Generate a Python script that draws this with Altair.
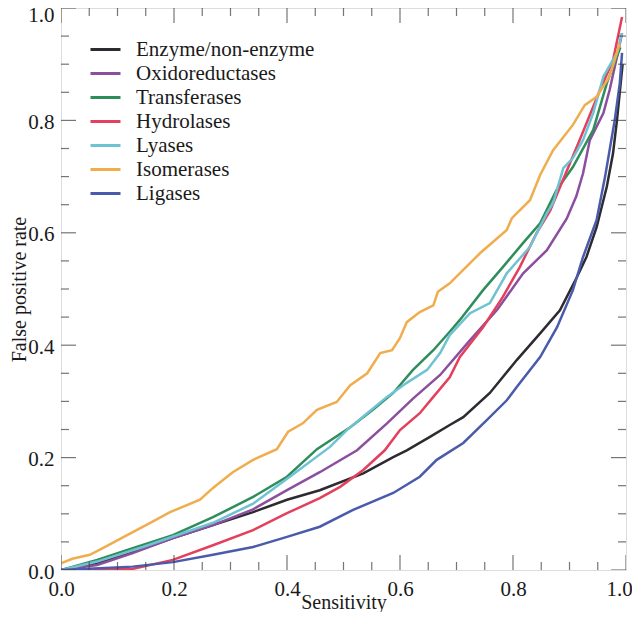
import altair as alt
import pandas as pd

names = ["Enzyme/non-enzyme", "Oxidoreductases", "Transferases", "Hydrolases",
         "Lyases", "Isomerases", "Ligases"]
colors = ["#2b2b30", "#8c4f9e", "#2f8d5c", "#e2405c", "#6fc2d2", "#f0ad4e", "#4a5bab"]

enzyme_x = [0, 0.051, 0.127, 0.198, 0.269, 0.34, 0.40, 0.458, 0.535, 0.588, 0.612, 0.653, 0.688,
            0.712, 0.759, 0.807, 0.848, 0.883, 0.913, 0.93, 0.948, 0.966, 0.977, 0.984, 0.99, 0.994]
enzyme_y = [0, 0.009, 0.032, 0.057, 0.080, 0.103, 0.125, 0.142, 0.172, 0.201, 0.213, 0.237, 0.258,
            0.272, 0.315, 0.374, 0.421, 0.462, 0.521, 0.557, 0.61, 0.682, 0.741, 0.80, 0.86, 0.90]

oxido_x = [0, 0.064, 0.127, 0.198, 0.269, 0.34, 0.40, 0.458, 0.524, 0.577, 0.623, 0.671, 0.724,
           0.772, 0.818, 0.86, 0.895, 0.912, 0.924, 0.936, 0.96, 0.971, 0.984, 0.993]
oxido_y = [0, 0.009, 0.030, 0.057, 0.080, 0.108, 0.142, 0.174, 0.213, 0.261, 0.305, 0.347, 0.409,
           0.463, 0.528, 0.569, 0.625, 0.665, 0.706, 0.765, 0.813, 0.854, 0.913, 0.955]

trans_x = [0, 0.064, 0.127, 0.198, 0.269, 0.34, 0.40, 0.453, 0.512, 0.552, 0.588, 0.623, 0.659,
           0.688, 0.706, 0.747, 0.782, 0.818, 0.848, 0.877, 0.906, 0.942, 0.966, 0.99]
trans_y = [0, 0.018, 0.039, 0.062, 0.094, 0.130, 0.166, 0.215, 0.254, 0.285, 0.315, 0.356, 0.391,
           0.424, 0.445, 0.498, 0.539, 0.582, 0.617, 0.676, 0.717, 0.783, 0.866, 0.93]

hydro_x = [0, 0.127, 0.198, 0.269, 0.34, 0.40, 0.458, 0.494, 0.535, 0.573, 0.60, 0.635, 0.659,
           0.688, 0.706, 0.747, 0.782, 0.812, 0.842, 0.866, 0.918, 0.954, 0.977, 0.993]
hydro_y = [0, 0.002, 0.018, 0.044, 0.071, 0.101, 0.128, 0.148, 0.178, 0.213, 0.249, 0.279, 0.308,
           0.343, 0.379, 0.432, 0.486, 0.539, 0.60, 0.64, 0.765, 0.854, 0.907, 0.984]

lyase_x = [0, 0.064, 0.145, 0.223, 0.269, 0.34, 0.405, 0.476, 0.506, 0.542, 0.577, 0.612, 0.648,
           0.671, 0.688, 0.724, 0.759, 0.789, 0.83, 0.86, 0.871, 0.889, 0.906, 0.924, 0.942, 0.96,
           0.984, 0.993]
lyase_y = [0, 0.015, 0.041, 0.068, 0.084, 0.118, 0.166, 0.219, 0.249, 0.279, 0.308, 0.333, 0.356,
           0.386, 0.418, 0.457, 0.475, 0.528, 0.575, 0.635, 0.653, 0.715, 0.733, 0.765, 0.813, 0.878,
           0.92, 0.955]

isom_x = [0, 0.02, 0.051, 0.074, 0.117, 0.158, 0.193, 0.246, 0.269, 0.304, 0.34, 0.382, 0.402,
          0.428, 0.453, 0.488, 0.512, 0.542, 0.565, 0.586, 0.60, 0.612, 0.635, 0.659, 0.667, 0.688,
          0.742, 0.789, 0.798, 0.83, 0.848, 0.871, 0.906, 0.927, 0.948, 0.971, 0.989]
isom_y = [0.012, 0.02, 0.027, 0.039, 0.062, 0.084, 0.103, 0.125, 0.146, 0.174, 0.196, 0.215, 0.246,
          0.261, 0.285, 0.299, 0.329, 0.35, 0.386, 0.391, 0.413, 0.441, 0.459, 0.471, 0.495, 0.51,
          0.564, 0.605, 0.626, 0.658, 0.703, 0.747, 0.792, 0.827, 0.842, 0.878, 0.937]

ligase_x = [0, 0.127, 0.198, 0.269, 0.34, 0.40, 0.458, 0.517, 0.588, 0.635, 0.665, 0.712, 0.754,
            0.789, 0.807, 0.848, 0.878, 0.906, 0.924, 0.948, 0.963, 0.972, 0.98, 0.989, 0.993]
ligase_y = [0, 0.006, 0.014, 0.027, 0.041, 0.059, 0.077, 0.107, 0.137, 0.166, 0.196, 0.226, 0.267,
            0.302, 0.326, 0.379, 0.432, 0.498, 0.557, 0.623, 0.70, 0.753, 0.80, 0.866, 0.92]

major_ticks = [0.0, 0.2, 0.4, 0.6, 0.8, 1.0]
minor_ticks = [0.05, 0.1, 0.15, 0.25, 0.3, 0.35, 0.45, 0.5, 0.55, 0.65, 0.7, 0.75, 0.85, 0.9, 0.95]
edges = [0.0, 1.0]

series = [(enzyme_x, enzyme_y), (oxido_x, oxido_y), (trans_x, trans_y), (hydro_x, hydro_y),
          (lyase_x, lyase_y), (isom_x, isom_y), (ligase_x, ligase_y)]
rows = []
for name, (xs, ys) in zip(names, series):
    for i, (a, b) in enumerate(zip(xs, ys)):
        rows.append({"series": name, "x": a, "y": b, "i": i})
df = pd.DataFrame(rows)

def tick_frame(values, along):
    r = []
    for v in values:
        for e in edges:
            if along == "x":
                r.append({"x": v, "y": e})
            else:
                r.append({"x": e, "y": v})
    return pd.DataFrame(r)

SERIF = "Liberation Serif"
INK = "#1a1a1a"
FRAME = "#3a3a3a"

xscale = alt.Scale(domain=[0, 1], nice=False, zero=False)
yscale = alt.Scale(domain=[0, 1], nice=False, zero=False)

xaxis = alt.Axis(values=major_ticks, format=".1f", ticks=False, domain=False, grid=False,
                 labelFont=SERIF, labelFontSize=21, labelColor=INK, labelPadding=8,
                 labelFlush=False,
                 labelOffset={"condition": {"test": "datum.value == 1", "value": -7}, "value": 0},
                 title="Sensitivity", titleFont=SERIF, titleFontSize=20, titleFontWeight="normal",
                 titleColor=INK, titlePadding=-7)
yaxis = alt.Axis(values=major_ticks, format=".1f", ticks=False, domain=False, grid=False,
                 labelFont=SERIF, labelFontSize=21, labelColor=INK, labelPadding=7,
                 labelOffset={"condition": {"test": "datum.value == 1", "value": 7}, "value": 2},
                 title="False positive rate", titleFont=SERIF, titleFontSize=20,
                 titleFontWeight="normal", titleColor=INK, titlePadding=-2)

X = alt.X("x:Q", scale=xscale, axis=xaxis)
Y = alt.Y("y:Q", scale=yscale, axis=yaxis)

lines = alt.Chart(df).mark_line(strokeWidth=2.5, clip=True).encode(
    x=X, y=Y,
    color=alt.Color("series:N", scale=alt.Scale(domain=names, range=colors),
                    legend=alt.Legend(orient="none", legendX=33, legendY=30, title=None,
                                      labelFont=SERIF, labelFontSize=21, labelColor=INK,
                                      labelLimit=400,
                                      symbolType="M-1.5,0L1.5,0", symbolSize=400,
                                      symbolStrokeWidth=3, labelOffset=19, rowPadding=2,
                                      padding=0)),
    order="i:Q",
)

def ticks(values, along, length):
    orient = "vertical" if along == "x" else "horizontal"
    return alt.Chart(tick_frame(values, along)).mark_tick(
        orient=orient, size=length, thickness=1.2, color=FRAME, clip=True
    ).encode(x=X, y=Y)

chart = alt.layer(
    lines,
    ticks(major_ticks, "x", 30), ticks(minor_ticks, "x", 16),
    ticks(major_ticks, "y", 30), ticks(minor_ticks, "y", 16),
).properties(
    width=565, height=562,
    autosize=alt.AutoSizeParams(type="none"),
    padding={"left": 53, "top": 0, "right": 6, "bottom": 42},
).configure_view(stroke=FRAME, strokeWidth=1.3).configure(background="white")

chart.save("out.html", embed_options={"renderer": "svg", "actions": False})
